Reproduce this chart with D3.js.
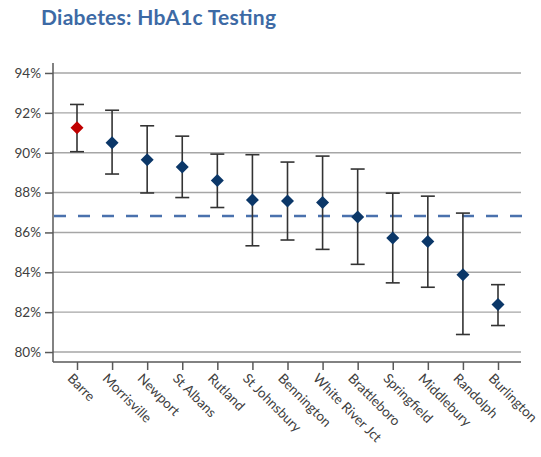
<!DOCTYPE html>
<html>
<head>
<meta charset="utf-8">
<script src="https://cdn.jsdelivr.net/npm/d3@7"></script>
<style>
  body { margin: 0; background: #fff; }
  svg { display: block; font-family: Lato, "Liberation Sans", sans-serif; }
</style>
</head>
<body>
<svg id="chart" width="541" height="457"></svg>
<script>
// data
const sites = ["Barre", "Morrisville", "Newport", "St Albans", "Rutland", "St Johnsbury",
  "Bennington", "White River Jct", "Brattleboro", "Springfield", "Middlebury", "Randolph", "Burlington"];
const rates = [91.25, 90.5, 89.65, 89.28, 88.6, 87.63, 87.58, 87.5, 86.78, 85.72, 85.55, 83.88, 82.38];
const upper = [92.42, 92.13, 91.35, 90.83, 89.93, 89.9, 89.53, 89.83, 89.18, 87.97, 87.82, 86.97, 83.38];
const lower = [90.05, 88.93, 87.98, 87.75, 87.25, 85.33, 85.62, 85.15, 84.4, 83.47, 83.25, 80.88, 81.33];
const average = 86.83;
const yTicks = [80, 82, 84, 86, 88, 90, 92, 94];
const highlight = "Barre";

const rows = sites.map((s, i) => ({ site: s, rate: rates[i], hi: upper[i], lo: lower[i] }));

const svg = d3.select("#chart");
const plotL = 53, plotR = 521, plotT = 63, plotB = 362;

const x = d3.scalePoint().domain(sites).range([77, 498]);
const y = d3.scaleLinear().domain([79.5, 94.5]).range([plotB, plotT]);

// title
svg.append("text")
  .attr("x", 41).attr("y", 24.5)
  .attr("fill", "#3d6aa5")
  .attr("font-size", 21)
  .attr("font-weight", "bold")
  .attr("textLength", 235)
  .text("Diabetes: HbA1c Testing");

// gridlines
svg.append("g").selectAll("line").data(yTicks).join("line")
  .attr("x1", plotL).attr("x2", plotR)
  .attr("y1", d => y(d)).attr("y2", d => y(d))
  .attr("stroke", "#a6a6a6").attr("stroke-width", 1.4);

// y axis
const yAxis = svg.append("g")
  .attr("transform", `translate(${plotL},0)`)
  .call(d3.axisLeft(y).tickValues(yTicks).tickSize(8).tickPadding(4).tickFormat(d => d + "%"));
yAxis.select(".domain").attr("d", `M0,${plotT}V${plotB}`).attr("stroke", "#595959").attr("stroke-width", 1.5);
yAxis.selectAll(".tick line").attr("stroke", "#595959").attr("stroke-width", 1.5);
yAxis.selectAll(".tick text").attr("fill", "#404040").attr("font-size", 13.5)
  .attr("font-family", "Lato, sans-serif");

// x axis
const xAxis = svg.append("g")
  .attr("transform", `translate(0,${plotB})`)
  .call(d3.axisBottom(x).tickSize(8).tickFormat(""));
xAxis.select(".domain").attr("d", `M${plotL},0H${plotR}`).attr("stroke", "#595959").attr("stroke-width", 1.5);
xAxis.selectAll(".tick line").attr("stroke", "#595959").attr("stroke-width", 1.5);

svg.append("g").selectAll("text").data(sites).join("text")
  .attr("transform", d => `translate(${x(d) - 7},${plotB + 14}) rotate(45)`)
  .attr("dy", "0.35em")
  .attr("fill", "#404040")
  .attr("font-size", 13.5)
  .text(d => d);

// average line
svg.append("line")
  .attr("x1", plotL + 1).attr("x2", plotR + 2)
  .attr("y1", y(average)).attr("y2", y(average))
  .attr("stroke", "#4a71ad").attr("stroke-width", 2.5)
  .attr("stroke-dasharray", "12,12");

// error bars
const bars = svg.append("g").selectAll("g").data(rows).join("g")
  .attr("stroke", "#333").attr("stroke-width", 1.6);
bars.append("line")
  .attr("x1", d => x(d.site)).attr("x2", d => x(d.site))
  .attr("y1", d => y(d.hi)).attr("y2", d => y(d.lo));
bars.append("line")
  .attr("x1", d => x(d.site) - 7).attr("x2", d => x(d.site) + 7)
  .attr("y1", d => y(d.hi)).attr("y2", d => y(d.hi));
bars.append("line")
  .attr("x1", d => x(d.site) - 7).attr("x2", d => x(d.site) + 7)
  .attr("y1", d => y(d.lo)).attr("y2", d => y(d.lo));

// diamonds
svg.append("g").selectAll("path").data(rows).join("path")
  .attr("transform", d => `translate(${x(d.site)},${y(d.rate)})`)
  .attr("d", "M0,-6.5L6.5,0L0,6.5L-6.5,0Z")
  .attr("fill", d => d.site === highlight ? "#c00000" : "#0b3768");
</script>
</body>
</html>
